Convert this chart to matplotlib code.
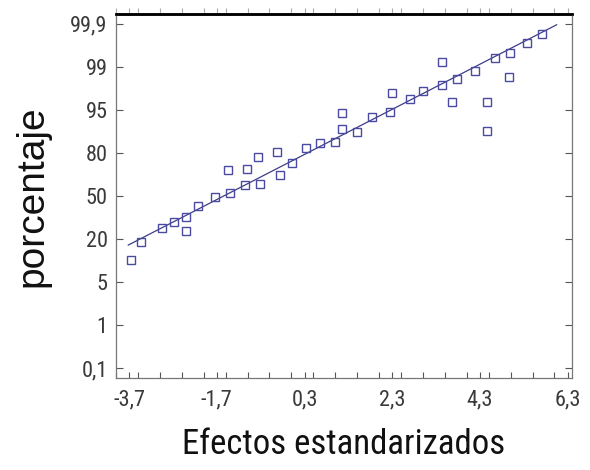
import matplotlib
matplotlib.use('Agg')
import matplotlib.pyplot as plt
from matplotlib.ticker import MultipleLocator

# datos (eje y en posiciones de la escala de probabilidad)
efectos = [-3.65, -3.43, -2.95, -2.67, -2.40, -2.40, -2.13, -1.74, -1.40, -1.44,
           -1.06, -1.01, -0.76, -0.72, -0.33, -0.26, 0.01, 0.33, 0.65, 0.99,
           1.15, 1.15, 1.49, 1.84, 2.25, 2.29, 2.70, 3.00, 3.43, 3.43,
           3.66, 3.77, 4.18, 4.45, 4.45, 4.64, 4.96, 4.98, 5.37, 5.71]
posicion = [2.51, 2.93, 3.26, 3.40, 3.51, 3.19, 3.77, 3.98, 4.07, 4.60,
            4.26, 4.63, 4.91, 4.28, 5.02, 4.49, 4.77, 5.12, 5.23, 5.26,
            5.56, 5.93, 5.49, 5.84, 5.95, 6.40, 6.26, 6.44, 6.58, 7.12,
            6.19, 6.72, 6.91, 6.19, 5.51, 7.21, 6.77, 7.33, 7.56, 7.77]

# recta de referencia
recta_x = [-3.72, 6.05]
recta_y = [2.86, 7.98]

x_ticks = [-3.7, -1.7, 0.3, 2.3, 4.3, 6.3]
x_labels = ['-3,7', '-1,7', '0,3', '2,3', '4,3', '6,3']
y_labels = ['0,1', '1', '5', '20', '50', '80', '95', '99', '99,9']

fig = plt.figure(figsize=(5.9, 4.7), dpi=100)
ax = fig.add_axes([0.1966, 0.1957, 0.7729, 0.7745])

ax.plot(recta_x, recta_y, color='#3c3c88', linewidth=0.9)
ax.plot(efectos, posicion, linestyle='none', marker='s', markersize=6,
        markerfacecolor='none', markeredgecolor='#4a4aa0', markeredgewidth=1.0)

ax.set_xlim(-4.0, 6.4)
ax.set_ylim(-0.23, 8.23)

ax.set_xticks(x_ticks)
ax.set_xticklabels(x_labels)
ax.xaxis.set_minor_locator(MultipleLocator(0.5))
ax.set_yticks(range(len(y_labels)))
ax.set_yticklabels(y_labels)

for lab in ax.get_xticklabels() + ax.get_yticklabels():
    lab.set_family(['Roboto Condensed', 'Liberation Sans', 'DejaVu Sans'])
    lab.set_fontsize(16)
    lab.set_color('#3a3a3a')

ax.tick_params(axis='x', which='both', direction='in', bottom=True, top=False,
               length=4, width=0.8, color='#555555', pad=8)
ax.tick_params(axis='y', which='both', direction='in', left=True, right=True,
               length=5, width=0.8, color='#555555', pad=6)

# marcas superiores hacia fuera
sec = ax.secondary_xaxis('top')
sec.set_xticks(x_ticks)
sec.xaxis.set_minor_locator(MultipleLocator(0.5))
sec.tick_params(which='both', direction='out', length=4, width=0.8,
                color='#aaaaaa', labeltop=False)
sec.spines['top'].set_linewidth(1.8)
sec.spines['top'].set_color('black')

for s in ['left', 'bottom', 'right']:
    ax.spines[s].set_color('#777777')
    ax.spines[s].set_linewidth(0.9)
ax.spines['top'].set_linewidth(1.8)
ax.spines['top'].set_color('black')

ax.set_xlabel('Efectos estandarizados',
              family=['Roboto Condensed', 'Liberation Sans', 'DejaVu Sans'],
              fontsize=25, color='#111111', labelpad=13)
ax.set_ylabel('porcentaje', family=['Liberation Sans', 'DejaVu Sans'],
              fontsize=28, color='#111111', labelpad=14)

fig.savefig('out.png', dpi=100)
